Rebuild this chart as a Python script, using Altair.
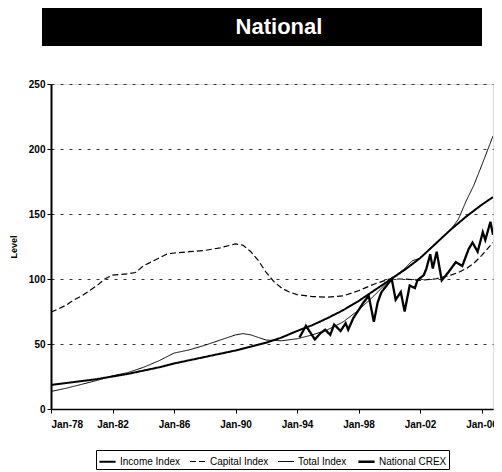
import altair as alt
import pandas as pd

series_names = ["Income Index", "Capital Index", "Total Index", "National CREX"]

income_dates = ["1978-01", "1979-01", "1980-01", "1981-01", "1982-01", "1983-01", "1984-01",
                "1985-01", "1986-01", "1987-01", "1988-01", "1989-01", "1990-01", "1991-01",
                "1992-01", "1993-01", "1994-01", "1995-01", "1996-01", "1997-01", "1998-01",
                "1999-01", "2000-01", "2001-01", "2002-01", "2003-01", "2004-01", "2005-01",
                "2006-01", "2006-10"]
income_values = [18.5, 20, 21.5, 23, 25, 27, 29.5, 32, 35, 37.5, 40, 42.5, 45, 48, 51, 55, 60,
                 64.5, 70, 76, 83, 91, 99, 107, 116, 127, 138, 148, 157, 163]

capital_dates = ["1978-01", "1978-07", "1979-01", "1979-07", "1980-01", "1980-07", "1981-01",
                 "1981-07", "1982-01", "1982-07", "1983-01", "1983-07", "1984-01", "1984-07",
                 "1985-01", "1985-07", "1986-01", "1987-01", "1988-01", "1989-01", "1990-01",
                 "1990-07", "1991-01", "1991-07", "1992-01", "1992-07", "1993-01", "1993-07",
                 "1994-01", "1995-01", "1996-01", "1997-01", "1998-01", "1999-01", "2000-01",
                 "2001-01", "2002-01", "2003-01", "2004-01", "2004-07", "2005-01", "2005-07",
                 "2006-01", "2006-10"]
capital_values = [74.5, 77, 80, 84, 87, 91, 95, 100, 103, 103.5, 104, 105, 110, 113, 116, 119,
                  120, 121, 122, 124, 127, 126, 121, 114, 105, 98, 93, 90, 88, 86.5, 86, 87, 91,
                  96, 100, 100, 99, 100, 103, 105, 108, 112, 118, 128]

total_dates = ["1978-01", "1979-01", "1980-01", "1981-01", "1982-01", "1983-01", "1984-01",
               "1985-01", "1986-01", "1987-01", "1988-01", "1989-01", "1990-01", "1990-07",
               "1991-01", "1991-07", "1992-01", "1993-01", "1994-01", "1995-01", "1996-01",
               "1997-01", "1998-01", "1999-01", "2000-01", "2001-01", "2001-07", "2002-01",
               "2003-01", "2004-01", "2004-07", "2005-01", "2005-07", "2006-01", "2006-10"]
total_values = [13.5, 16, 19, 22, 25.5, 28, 32, 37, 43, 45.5, 49, 53, 57, 58, 57, 55, 53, 52.5,
                54, 57, 61, 67, 76, 87, 99, 108, 114, 116, 127, 138, 146, 160, 172, 187, 210]

crex_dates = ["1994-03", "1994-08", "1995-03", "1995-07", "1995-11", "1996-03", "1996-06",
              "1996-11", "1997-03", "1997-05", "1997-09", "1998-01", "1998-05", "1998-09",
              "1999-01", "1999-04", "1999-07", "1999-11", "2000-03", "2000-06", "2000-10",
              "2001-01", "2001-05", "2001-09", "2001-11", "2002-04", "2002-06", "2002-09",
              "2002-11", "2003-02", "2003-06", "2003-11", "2004-05", "2004-10", "2005-03",
              "2005-06", "2005-10", "2006-02", "2006-04", "2006-08", "2006-10"]
crex_values = [55, 64, 53.5, 58, 61, 57, 65, 60, 66, 61, 70, 76, 82, 87, 67, 82, 90, 95, 100, 84,
               90, 75, 95, 93, 99, 103, 108, 119, 108, 121, 99, 105, 113, 110, 123, 128, 121, 136,
               130, 144, 134]

tick_years = [1978, 1982, 1986, 1990, 1994, 1998, 2002, 2006]
y_ticks = [0, 50, 100, 150, 200, 250]

rows = []
for name, dates, vals in [("Income Index", income_dates, income_values),
                          ("Capital Index", capital_dates, capital_values),
                          ("Total Index", total_dates, total_values),
                          ("National CREX", crex_dates, crex_values)]:
    for d, v in zip(dates, vals):
        rows.append({"series": name, "date": d.replace("-", "/") + "/01", "value": v})
df = pd.DataFrame(rows)

FONT = "Liberation Sans"
W, H = 442, 325

leg = alt.Legend(title=None, orient="none", legendX=45, legendY=366, direction="horizontal",
                 strokeColor="black", padding=2, symbolType="stroke",
                 symbolSize=260, labelFontSize=10, labelFont=FONT, labelColor="black",
                 columnPadding=6, symbolStrokeColor="black", labelOffset=3)

lines = alt.Chart(df).mark_line(clip=True).encode(
    x=alt.X("date:T",
            scale=alt.Scale(domain=[alt.DateTime(year=1978, month=1, date=1),
                                    alt.DateTime(year=2006, month=10, date=1)]),
            axis=alt.Axis(title=None, format="%b-%y", grid=False, tickSize=4, labelPadding=6,
                          values=[alt.DateTime(year=y, month=1, date=1) for y in tick_years],
                          labelFontSize=10, labelFontWeight="bold", labelFont=FONT,
                          domainColor="black", tickColor="black", labelColor="black",
                          domainWidth=1.5)),
    y=alt.Y("value:Q", scale=alt.Scale(domain=[0, 250], nice=False),
            axis=alt.Axis(title="Level", values=y_ticks, tickSize=4, labelPadding=2,
                          grid=True, gridDash=[3, 6], gridColor="#333", gridWidth=1,
                          labelFontSize=10, labelFontWeight="bold", labelFont=FONT,
                          titleFontSize=9, titleFontWeight="bold", titleFont=FONT,
                          titlePadding=10, domainColor="black", domainWidth=2,
                          tickColor="black", labelColor="black", titleColor="black")),
    color=alt.Color("series:N", scale=alt.Scale(domain=series_names,
                                                range=["black", "black", "black", "black"]),
                    legend=leg),
    strokeDash=alt.StrokeDash("series:N", scale=alt.Scale(domain=series_names,
                                                          range=[[1, 0], [6, 3], [1, 0], [1, 0]]),
                              legend=leg),
    strokeWidth=alt.StrokeWidth("series:N", scale=alt.Scale(type="ordinal", domain=series_names,
                                                            range=[2, 1.2, 1, 2.3]),
                                legend=leg),
)

deco = pd.DataFrame({"label": ["National"]})
bar = alt.Chart(deco).mark_rect(color="black", clip=False).encode(
    x=alt.value(-9), x2=alt.value(431), y=alt.value(-76), y2=alt.value(-38))
title_text = alt.Chart(deco).mark_text(color="white", font=FONT, fontWeight="bold", fontSize=22,
                                       align="center", baseline="middle", clip=False).encode(
    text="label:N", x=alt.value(228), y=alt.value(-57))

chart = alt.layer(lines, bar, title_text).properties(
    width=W, height=H,
    autosize=alt.AutoSizeParams(type="none"),
    padding={"left": 43, "top": 76, "right": 1, "bottom": 62},
).configure_view(stroke="black", strokeWidth=1.5).configure(background="white")

chart.save("out.html", embed_options={"renderer": "svg", "actions": False})
